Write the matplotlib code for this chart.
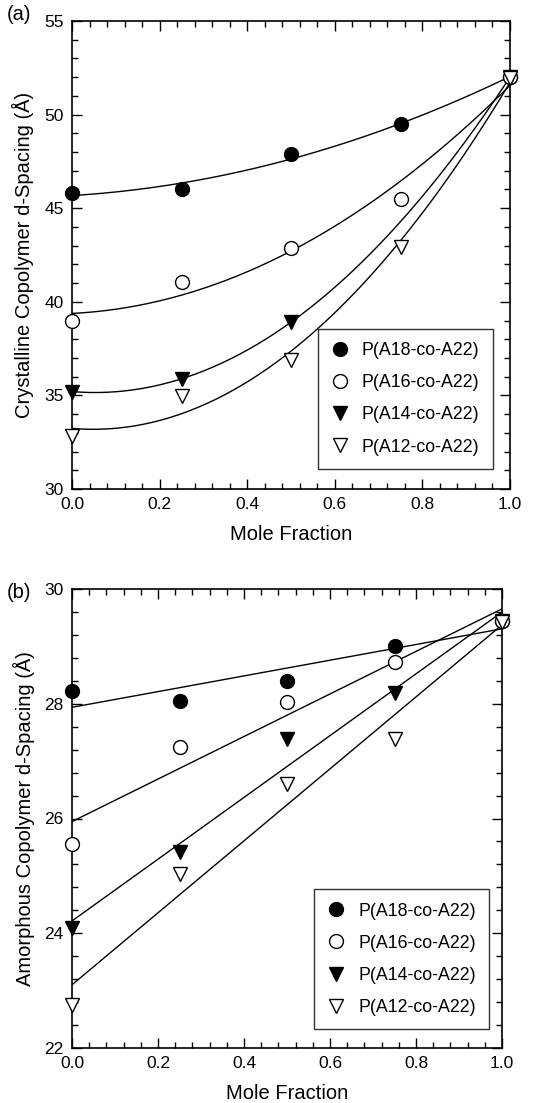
import numpy as np
import matplotlib
matplotlib.use("Agg")
import matplotlib.pyplot as plt
from matplotlib.ticker import MultipleLocator

plt.rcParams['font.family'] = ['Liberation Sans', 'DejaVu Sans']

# ---------------- data ----------------
labels = ["P(A18-co-A22)", "P(A16-co-A22)", "P(A14-co-A22)", "P(A12-co-A22)"]

# (a) crystalline d-spacing
cx_a18 = [0.0, 0.25, 0.5, 0.75, 1.0]
cy_a18 = [45.8, 46.0, 47.9, 49.5, 52.0]
cx_a16 = [0.0, 0.25, 0.5, 0.75, 1.0]
cy_a16 = [39.0, 41.05, 42.9, 45.5, 52.0]
cx_a14 = [0.0, 0.25, 0.5, 1.0]
cy_a14 = [35.2, 35.9, 38.9, 52.0]
cx_a12 = [0.0, 0.25, 0.5, 0.75, 1.0]
cy_a12 = [32.85, 34.95, 36.9, 42.95, 51.95]

# (b) amorphous d-spacing
ax_a18 = [0.0, 0.25, 0.5, 0.75, 1.0]
ay_a18 = [28.22, 28.04, 28.40, 29.0, 29.45]
ax_a16 = [0.0, 0.25, 0.5, 0.75, 1.0]
ay_a16 = [25.55, 27.25, 28.03, 28.72, 29.45]
ax_a14 = [0.0, 0.25, 0.5, 0.75, 1.0]
ay_a14 = [24.1, 25.42, 27.38, 28.18, 29.45]
ax_a12 = [0.0, 0.25, 0.5, 0.75, 1.0]
ay_a12 = [22.75, 25.04, 26.6, 27.38, 29.42]

styles = [
    dict(marker='o', mfc='black', mec='black', ms=10),
    dict(marker='o', mfc='white', mec='black', ms=10),
    dict(marker='v', mfc='black', mec='black', ms=10.5),
    dict(marker='v', mfc='white', mec='black', ms=10.5),
]

fig = plt.figure(figsize=(5.6, 11.03), dpi=100)
axA = fig.add_axes([72/560, 1-489/1103, 438/560, 468/1103])
axB = fig.add_axes([72/560, 1-1048/1103, 430/560, 459/1103])


def style_axes(ax, ylim, ymaj, ymin):
    ax.set_xlim(0, 1)
    ax.set_ylim(*ylim)
    ax.xaxis.set_major_locator(MultipleLocator(0.2))
    ax.xaxis.set_minor_locator(MultipleLocator(0.04))
    ax.yaxis.set_major_locator(MultipleLocator(ymaj))
    ax.yaxis.set_minor_locator(MultipleLocator(ymin))
    ax.tick_params(which='both', direction='in', top=True, right=True,
                   width=1.0, labelsize=12.5, pad=6)
    ax.tick_params(which='major', length=7)
    ax.tick_params(which='minor', length=4)
    for s in ax.spines.values():
        s.set_linewidth(1.2)
    ax.set_xlabel("Mole Fraction", fontsize=14.5, labelpad=9)


def plot_panel(ax, xs, ys, deg, legend_anchor):
    xf = np.linspace(0, 1, 200)
    for x, y in zip(xs, ys):
        c = np.polyfit(x, y, deg)
        ax.plot(xf, np.polyval(c, xf), color='black', lw=1.0)
    handles = []
    for x, y, st, lab in zip(xs, ys, styles, labels):
        h, = ax.plot(x, y, ls='none', mew=1.0, clip_on=False, zorder=5,
                     label=lab, **st)
        handles.append(h)
    leg = ax.legend(handles=handles, loc='lower right',
                    bbox_to_anchor=legend_anchor, borderaxespad=0,
                    fontsize=12.8, frameon=True, fancybox=False,
                    edgecolor='black', handlelength=1.0, handletextpad=0.75,
                    labelspacing=0.85, borderpad=0.75)
    leg.get_frame().set_linewidth(1.0)
    leg.set_zorder(10)


style_axes(axA, (30, 55), 5, 1)
plot_panel(axA, [cx_a18, cx_a16, cx_a14, cx_a12],
           [cy_a18, cy_a16, cy_a14, cy_a12], 2, (0.961, 0.043))
axA.set_ylabel("Crystalline Copolymer d-Spacing (Å)", fontsize=14.5, labelpad=7)

style_axes(axB, (22, 30), 2, 0.4)
plot_panel(axB, [ax_a18, ax_a16, ax_a14, ax_a12],
           [ay_a18, ay_a16, ay_a14, ay_a12], 1, (0.97, 0.041))
axB.set_ylabel("Amorphous Copolymer d-Spacing (Å)", fontsize=14.5, labelpad=7)

fig.text(7/560, 1-15/1103, "(a)", fontsize=14.5, va='center', ha='left')
fig.text(7/560, 1-592/1103, "(b)", fontsize=14.5, va='center', ha='left')

fig.savefig("out.png", dpi=100)
